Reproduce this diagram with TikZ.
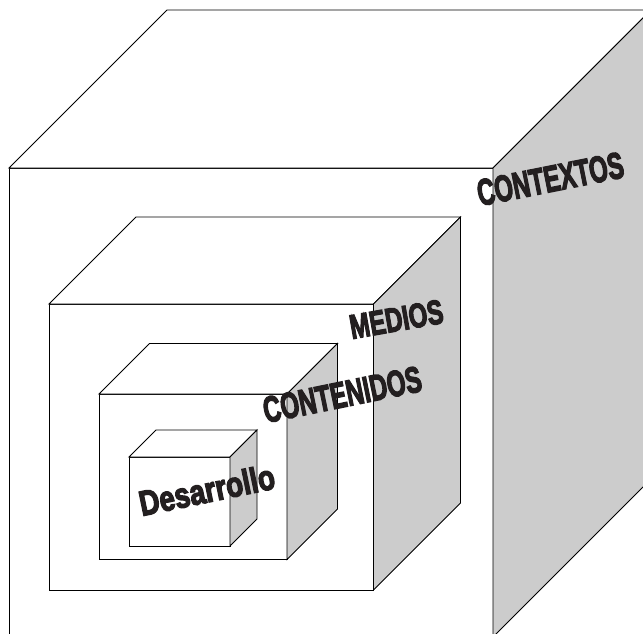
\documentclass[tikz,border=0pt]{standalone}
\usepackage{fontspec}
\setmainfont{Liberation Sans}
\newfontfamily\heavyfont{Liberation Sans}[UprightFont=*-Bold, FakeBold=4]
\usetikzlibrary{calc}
\definecolor{sidegray}{HTML}{CCCCCC}
\definecolor{inkc}{HTML}{231F20}
\tikzset{
  face/.style={fill=white, draw=black, line width=0.9pt, line join=miter},
  side/.style={fill=sidegray, draw=black, line width=0.9pt, line join=miter},
  lbl/.style={inner sep=0pt, outer sep=0pt, anchor=base west, text=inkc}
}
\newcommand{\mycube}[5]{%
  \filldraw[face] (#1,#2) rectangle (#3,#4);
  \filldraw[face] (#1,#2) -- ++(#5,-#5) -- ++({#3-#1},0) -- (#3,#2) -- cycle;
  \filldraw[side] (#3,#2) -- ++(#5,-#5) -- ++(0,{#4-#2}) -- (#3,#4) -- cycle;
}
\newcommand{\lbltext}[3]{\scalebox{#2}[1]{\heavyfont\bfseries\fontsize{#1}{#1}\selectfont #3}}
\begin{document}
\begin{tikzpicture}[x=1pt,y=-1pt]
  \useasboundingbox (0,0) rectangle (643,634);
  \fill[white] (0,0) rectangle (643,634);
  \clip (0,0) rectangle (643,634);
  \mycube{9}{168}{493}{637}{158}
  \mycube{49}{304}{373.5}{590}{87}
  \mycube{99}{394}{287}{559.5}{50.5}
  \mycube{129}{457}{230}{546}{27}
  \node[lbl, rotate=11.3] (contextos) at (480,206) {\lbltext{37}{0.647}{CONTEXTOS}};
  \node[lbl, rotate=10] (medios) at (352,339) {\lbltext{34}{0.703}{MEDIOS}};
  \node[lbl, rotate=11.6] (contenidos) at (266,423) {\lbltext{36.5}{0.661}{CONTENIDOS}};
  \node[lbl, rotate=11.7] (desarrollo) at (142,516) {\lbltext{35}{0.795}{Desarrollo}};
\end{tikzpicture}
\end{document}
